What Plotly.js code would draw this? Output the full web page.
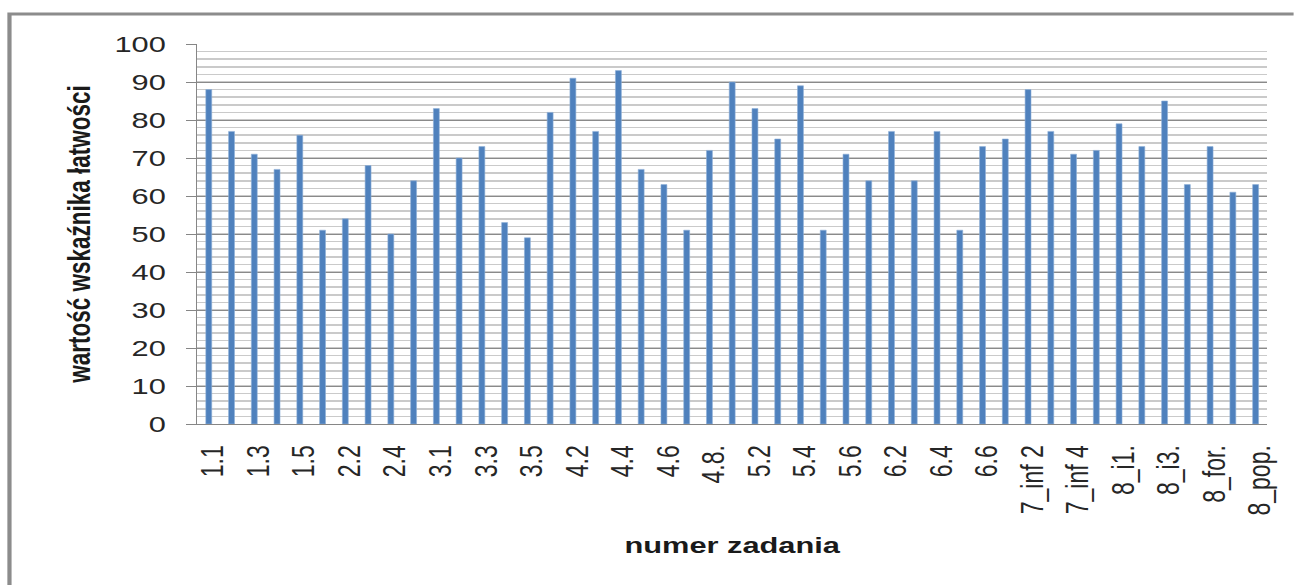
<!DOCTYPE html>
<html>
<head>
<meta charset="utf-8">
<script src="https://cdn.plot.ly/plotly-3.0.1.min.js"></script>
<style>
  html, body { margin: 0; padding: 0; background: #fff; overflow: hidden; }
  #wrap { width: 1294px; height: 585px; overflow: hidden; position: relative; }
  #chart { position: absolute; left: 0; top: 0; transform-origin: 0 0; }
</style>
</head>
<body>
<div id="wrap"><div id="chart"></div></div>
<script>
// Data
var categories = [
  "1.1","1.2","1.3","1.4","1.5",
  "2.1","2.2","2.3","2.4","2.5",
  "3.1","3.2","3.3","3.4","3.5",
  "4.1","4.2","4.3","4.4","4.5","4.6","4.7","4.8.",
  "5.1","5.2","5.3","5.4","5.5","5.6",
  "6.1","6.2","6.3","6.4","6.5","6.6",
  "7_inf 1","7_inf 2","7_inf 3","7_inf 4","7_inf 5",
  "8_i1.","8_i2.","8_i3.","8_i4.","8_for.","8_pol.","8_pop."
];
var values = [
  88,77,71,67,76,
  51,54,68,50,64,
  83,70,73,53,49,
  82,91,77,93,67,63,51,72,
  90,83,75,89,51,71,
  64,77,64,77,51,73,
  75,88,77,71,72,
  79,73,85,63,73,61,63
];
var tickLabels = [
  "1.1","1.3","1.5","2.2","2.4","3.1","3.3","3.5","4.2","4.4","4.6","4.8.",
  "5.2","5.4","5.6","6.2","6.4","6.6","7_inf 2","7_inf 4","8_i1.","8_i3.","8_for.","8_pop."
];
var yTickValues = [0,10,20,30,40,50,60,70,80,90,100];

// The reference is horizontally stretched; reproduce it with a scaleX
var W = 1294, H = 585, S = 1.4;
var w = W / S;
var chart = document.getElementById('chart');
chart.style.width = w + 'px';
chart.style.height = H + 'px';
chart.style.transform = 'scaleX(' + S + ')';

var plotL = 198, plotR = 1268, plotT = 44, plotB = 424;

var trace = {
  type: 'bar',
  x: categories,
  y: values,
  marker: { color: '#4F81BD', line: { color: '#8fb0d8', width: 0.5 } },
  hoverinfo: 'x+y'
};

var layout = {
  width: w,
  height: H,
  margin: { l: plotL / S, r: (W - plotR) / S, t: plotT, b: H - plotB, pad: 0 },
  paper_bgcolor: '#ffffff',
  plot_bgcolor: '#ffffff',
  bargap: 0.74,
  showlegend: false,
  font: { family: 'Liberation Sans, Arial, sans-serif', color: '#1a1a1a' },
  xaxis: {
    type: 'category',
    tickmode: 'array',
    tickvals: tickLabels,
    ticktext: tickLabels,
    tickangle: -90,
    tickfont: { size: 23, family: 'Liberation Sans, Arial, sans-serif', color: '#262626' },
    ticks: '',
    showline: true,
    linecolor: '#868686',
    linewidth: 1,
    showgrid: false,
    zeroline: false,
    ticklabelstandoff: 11,
    ticklabelshift: 3,
    title: {
      text: 'numer zadania',
      font: { size: 22, family: 'Liberation Sans, Arial, sans-serif', weight: 'bold', color: '#1a1a1a' },
      standoff: 23
    }
  },
  yaxis: {
    range: [0, 100],
    tickmode: 'array',
    tickvals: yTickValues,
    ticktext: yTickValues.map(String),
    tickfont: { size: 22, family: 'Liberation Sans, Arial, sans-serif', color: '#262626' },
    ticks: 'outside',
    ticklen: 10 / S,
    tickcolor: '#868686',
    tickwidth: 1,
    ticklabelstandoff: 10,
    showline: true,
    linecolor: '#868686',
    linewidth: 1,
    showgrid: true,
    gridcolor: '#8a8a8a',
    gridwidth: 1,
    zeroline: false,
    minor: { dtick: 2, showgrid: true, gridcolor: '#cacaca', gridwidth: 1.5, ticks: '' },
    title: {
      text: 'wartość wskaźnika łatwości',
      font: { size: 22.5, family: 'Liberation Sans, Arial, sans-serif', weight: 'bold', color: '#1a1a1a' },
      standoff: 10
    }
  },
  shapes: [{
    type: 'rect', xref: 'paper', yref: 'paper',
    x0: (10 - plotL) / (plotR - plotL), x1: 1.2,
    y0: -0.7, y1: (plotB - 14) / (plotB - plotT),
    line: { color: '#8c8c8c', width: 3 },
    fillcolor: 'rgba(0,0,0,0)',
    layer: 'above'
  }]
};

Plotly.newPlot(chart, [trace], layout, { displayModeBar: false, staticPlot: true });
</script>
</body>
</html>
